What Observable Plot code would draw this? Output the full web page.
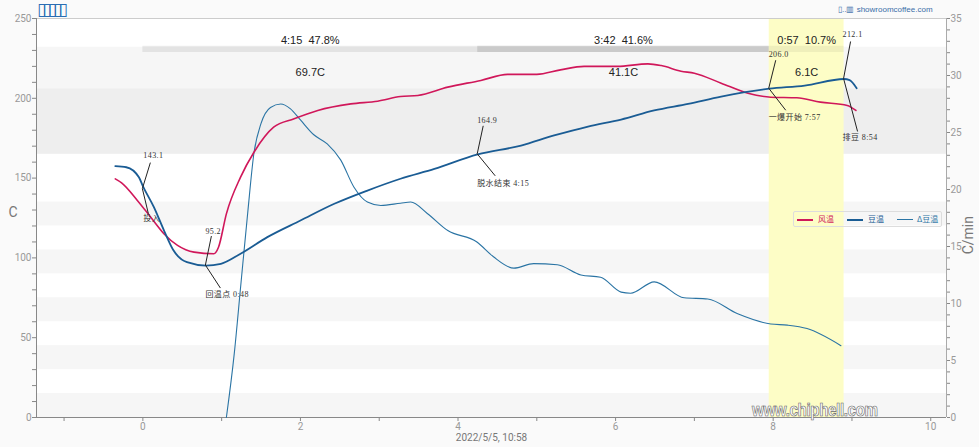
<!DOCTYPE html>
<html><head><meta charset="utf-8">
<script src="https://cdn.jsdelivr.net/npm/d3@7"></script>
<script src="https://cdn.jsdelivr.net/npm/@observablehq/plot@0.6"></script>
<style>
html,body{margin:0;padding:0;background:#fafafa;}
#wrap{position:relative;width:979px;height:447px;overflow:hidden;font-family:Roboto,"Noto Sans CJK SC",sans-serif;}
#wrap svg{position:absolute;left:0;top:0;}
#title{position:absolute;left:37px;top:-1px;color:#2a6db3;font-size:17px;letter-spacing:-4px;font-family:"DejaVu Sans";line-height:20px;}
#site{position:absolute;left:838px;top:5px;color:#3a6ea8;font-size:8px;font-family:"Liberation Sans",sans-serif;white-space:nowrap;}
#legend{position:absolute;left:793px;top:211px;width:147px;height:14px;border:1px solid #ddd;border-radius:2px;font-family:"Noto Sans CJK SC",sans-serif;font-size:8px;}
#legend .ln{position:absolute;top:7px;height:2px;width:16px;}
#legend .tx{position:absolute;top:1px;line-height:12px;}
#wm{position:absolute;left:752px;top:399px;font-family:"Liberation Sans",sans-serif;font-size:19px;font-weight:bold;color:#fff;-webkit-text-stroke:0.7px #666;transform:scaleX(0.8);transform-origin:left top;letter-spacing:-0.5px;white-space:nowrap;}
</style>
</head><body>
<div id="wrap">
  <div id="title">▯▯▯▯▯</div>
  <div id="site">▯..▥ showroomcoffee.com</div>
</div>
<script>
// ---------- data ----------
const airT = [-0.35,-0.27,-0.07,0.1,0.27,0.44,0.65,0.9,0.96,1.06,1.24,1.41,1.66,1.92,2.22,2.64,2.98,3.27,3.49,3.87,4.29,4.63,5.0,5.3,5.6,6.02,6.41,6.58,6.83,7.0,7.34,7.68,7.97,8.3,8.6,8.94,9.05];
const airV = [149.5,147,136,125.5,115,107.8,103.6,102.6,106.7,127.6,150.6,166.2,181.9,187.2,192.4,196.5,198.2,201.1,201.8,207,211.2,215,215,217.8,220,220,221.6,220.5,217,215.7,209.5,203.2,200.7,200.3,197.6,195.5,192.4];

const beanT = [-0.35,-0.21,-0.05,0,0.14,0.27,0.39,0.56,0.8,0.99,1.24,1.58,2.0,2.43,2.85,3.27,3.70,4.25,4.8,5.22,5.65,6.07,6.49,6.92,7.34,7.95,8.4,8.9,8.97,9.06];
const beanV = [157.5,156.8,150.5,145,131.8,117,104.6,97.3,95.2,96.3,102.6,113,123.4,133.9,142.2,149.6,155.8,164.9,170.4,176.7,182.3,186.7,192.4,196.5,201.1,206.0,208,212.1,211.4,206.3];

const rorT = [1.06,1.16,1.24,1.33,1.41,1.5,1.62,1.75,1.87,2.0,2.17,2.34,2.51,2.68,2.85,3.02,3.27,3.4,3.61,3.87,4.24,4.45,4.71,4.96,5.26,5.56,5.81,6.07,6.19,6.49,6.87,7.17,7.55,7.97,8.18,8.43,8.86];
const rorV = [0,5.6,11.4,17.9,23.2,25.8,27.2,27.5,27.1,26.1,24.8,24.0,22.6,20.2,18.9,18.6,18.8,18.9,17.9,16.4,15.4,14.1,13.1,13.5,13.4,12.5,12.3,11.0,10.9,11.9,10.5,10.4,9.1,8.2,8.1,7.8,6.3];

const eventNames = ["投入","回温点","脱水结束","一爆开始","排豆"];
const eventTimes = [0, 0.8, 4.25, 7.95, 8.9];
const eventTimeLabels = ["", "0:48", "4:15", "7:57", "8:54"];
const eventTemps = [143.1, 95.2, 164.9, 206.0, 212.1];

const phaseStart = [0, 4.25, 7.95];
const phaseEnd = [4.25, 7.95, 8.9];
const phaseDuration = ["4:15", "3:42", "0:57"];
const phasePercent = ["47.8%", "41.6%", "10.7%"];
const phaseRise = ["69.7C", "41.1C", "6.1C"];

const seriesNames = ["风温", "豆温", "Δ豆温"];
const xAxisLabel = "2022/5/5, 10:58";
const yLeftLabel = "C";
const yRightLabel = "C/min";
const leftTicks = d3.range(0, 251, 10);
const rightTicks = d3.range(0, 36, 1);
const xTicks = d3.range(-1, 11, 1);

// ---------- layout / style ----------
const xDomain = [-1.35, 10.2];
const yDomain = [0, 250];
const rorMax = 35;
const k = yDomain[1] / rorMax;
const colAir = "#d0175a", colBean = "#1a5c94", colRor = "#2a74a4";

const air = airT.map((t, i) => ({t, v: airV[i]}));
const bean = beanT.map((t, i) => ({t, v: beanV[i]}));
const ror = rorT.map((t, i) => ({t, v: rorV[i] * k}));
const events = eventNames.map((n, i) => ({name: n, t: eventTimes[i], v: eventTemps[i], time: eventTimeLabels[i]}));
const phases = phaseStart.map((s, i) => ({s, e: phaseEnd[i], dur: phaseDuration[i], pct: phasePercent[i], rise: phaseRise[i]}));

const bands = [];
for (let lo = 0; lo < 150; lo += 30) bands.push({lo, hi: lo + 15, fill: "#f6f6f6"});
bands.push({lo: eventTemps[2], hi: eventTemps[3], fill: "#eeeeee"});
bands.push({lo: eventTemps[3], hi: 232, fill: "#f6f6f6"});
const phaseFills = ["rgba(0,0,0,0.075)", "rgba(0,0,0,0.175)", "rgba(0,0,0,0.055)"];
const frame = [{x1: xDomain[0], x2: xDomain[1], y1: yDomain[0], y2: yDomain[1]}];

const plot = Plot.plot({
  width: 979, height: 447,
  marginLeft: 36, marginRight: 33, marginTop: 18, marginBottom: 30,
  x: {domain: xDomain, label: null},
  y: {domain: yDomain, label: null},
  style: {background: "transparent", fontFamily: "Roboto, sans-serif", fontSize: "10px", color: "#999"},
  marks: [
    Plot.rect(frame, {x1: "x1", x2: "x2", y1: "y1", y2: "y2", fill: "#fff"}),
    Plot.rect(bands, {x1: () => xDomain[0], x2: () => xDomain[1], y1: "lo", y2: "hi", fill: d => d.fill}),
    Plot.rect([phases[2]], {x1: "s", x2: "e", y1: () => yDomain[0], y2: () => yDomain[1], fill: "#fdfdc6"}),
    Plot.rect(phases, {x1: "s", x2: "e", y1: () => 228.7, y2: () => 232.6, fill: (d, i) => phaseFills[i]}),
    Plot.text(phases, {x: d => (d.s + d.e) / 2, frameAnchor: "top", dy: 18, text: d => d.dur + "  " + d.pct, fill: "#222", fontSize: 11, fontFamily: "Liberation Sans, Arial, sans-serif"}),
    Plot.text(phases, {x: d => (d.s + d.e) / 2, frameAnchor: "top", dy: 50, text: "rise", fill: "#222", fontSize: 11, fontFamily: "Liberation Sans, Arial, sans-serif"}),
    Plot.ruleY([yDomain[1]], {stroke: "#ccc"}),
    Plot.ruleX([xDomain[1]], {stroke: "#aaa"}),
    Plot.ruleX([xDomain[0]], {stroke: "#888"}),
    Plot.ruleY([yDomain[0]], {stroke: "#888"}),
    Plot.line(ror, {x: "t", y: "v", stroke: colRor, strokeWidth: 1.1, curve: "monotone-x"}),
    Plot.line(air, {x: "t", y: "v", stroke: colAir, strokeWidth: 1.6, curve: "monotone-x"}),
    Plot.line(bean, {x: "t", y: "v", stroke: colBean, strokeWidth: 1.8, curve: "monotone-x"}),
    Plot.axisX({ticks: xTicks, tickFormat: d => (d >= 0 && d % 2 === 0 ? String(d) : ""), tickSize: 4, tickPadding: 1, label: null, stroke: "#888", fill: "#999"}),
    Plot.axisY({ticks: leftTicks, anchor: "left", tickFormat: d => (d % 50 === 0 ? String(d) : ""), tickSize: 4, tickPadding: 1, label: null, stroke: "#888", fill: "#999"}),
    Plot.axisY({ticks: rightTicks.map(r => r * k), anchor: "right", tickFormat: d => { const r = Math.round(d / k); return r % 5 === 0 ? String(r) : ""; }, tickSize: 3, tickPadding: 1, label: null, stroke: "#888", fill: "#999"}),
    Plot.text([xAxisLabel], {frameAnchor: "bottom", dy: 23.5, text: d => d, fill: "#777", fontSize: 10}),
    Plot.text([yLeftLabel], {frameAnchor: "left", dx: -28, dy: -5, text: d => d, fill: "#777", fontSize: 14}),
    Plot.text([yRightLabel], {frameAnchor: "right", dx: 22, dy: -2, text: d => d, fill: "#777", fontSize: 14, rotate: -90})
  ]
});

const wrap = document.getElementById("wrap");
wrap.insertBefore(plot, wrap.firstChild);

// ---------- annotations (leader lines) through the plot's scales ----------
const sx = plot.scale("x"), sy = plot.scale("y");
const px = v => sx.apply(v), py = v => sy.apply(v);
const offsets = [
  {up: [8, -26], upText: [1, -33], low: [6, 25], lowText: [1, 30]},
  {up: [6, -29], upText: [0, -34], low: [15, 23], lowText: [0, 29]},
  {up: [6, -28], upText: [0, -34], low: [18, 22], lowText: [0, 29]},
  {up: [7, -28], upText: [0, -34], low: [17, 22], lowText: [0, 29]},
  {up: [7, -37], upText: [-1, -44], low: [14, 53], lowText: [-1, 59]}
];
const g = d3.select(plot).append("g").attr("text-anchor", "start");
events.forEach((e, i) => {
  const x = px(e.t), y = py(e.v), o = offsets[i];
  g.append("line").attr("x1", x).attr("y1", y).attr("x2", x + o.up[0]).attr("y2", y + o.up[1]).attr("stroke", "#222").attr("stroke-width", 1);
  g.append("line").attr("x1", x).attr("y1", y).attr("x2", x + o.low[0]).attr("y2", y + o.low[1]).attr("stroke", "#222").attr("stroke-width", 1);
  g.append("text").attr("x", x + o.upText[0]).attr("y", y + o.upText[1]).attr("dy", "0.35em").attr("text-anchor", "start")
    .attr("font-family", "Liberation Serif, 'Noto Sans CJK SC', serif").attr("font-size", 8).attr("fill", "#333").attr("letter-spacing", "0.4px")
    .text(e.v.toFixed(1));
  g.append("text").attr("x", x + o.lowText[0]).attr("y", y + o.lowText[1]).attr("dy", "0.35em").attr("text-anchor", "start")
    .attr("font-family", "Liberation Serif, 'Noto Sans CJK SC', serif").attr("font-size", 8).attr("fill", "#333").attr("letter-spacing", "0.4px")
    .text(e.time ? e.name + " " + e.time : e.name);
});

// ---------- legend ----------
const legend = document.createElement("div");
legend.id = "legend";
const cols = [colAir, colBean, colRor];
const lx = [3, 53, 103], tx = [24, 74, 123];
seriesNames.forEach((n, i) => {
  const l = document.createElement("div");
  l.className = "ln"; l.style.left = lx[i] + "px"; l.style.background = cols[i];
  if (i === 2) l.style.height = "1.3px";
  const t = document.createElement("div");
  t.className = "tx"; t.style.left = tx[i] + "px"; t.style.color = cols[i]; t.textContent = n;
  legend.appendChild(l); legend.appendChild(t);
});
wrap.appendChild(legend);

const wm = document.createElement("div");
wm.id = "wm"; wm.textContent = "www.chiphell.com";
wrap.appendChild(wm);
</script>
</body></html>
